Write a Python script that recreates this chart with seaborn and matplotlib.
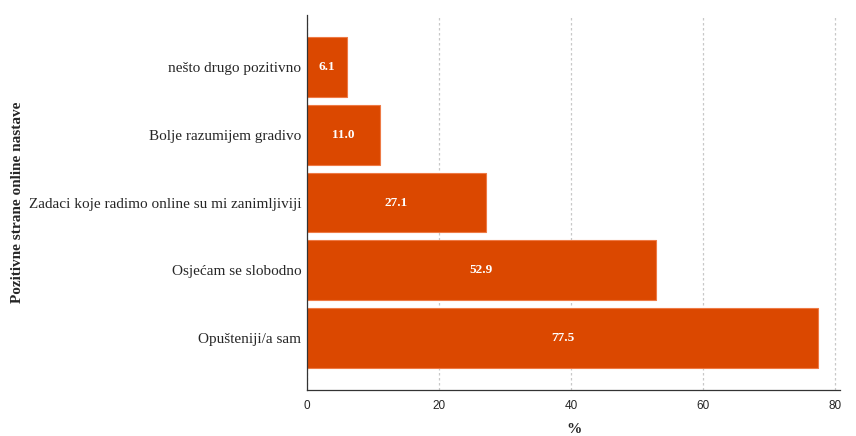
import matplotlib
matplotlib.use("Agg")
import matplotlib.pyplot as plt
import seaborn as sns
import pandas as pd

categories = ["nešto drugo pozitivno", "Bolje razumijem gradivo",
              "Zadaci koje radimo online su mi zanimljiviji",
              "Osjećam se slobodno", "Opušteniji/a sam"]
values = [6.1, 11.0, 27.1, 52.9, 77.5]
xticks = [0, 20, 40, 60, 80]

df = pd.DataFrame({"cat": categories, "val": values})

sns.set_style("white")
fig = plt.figure(figsize=(8.56, 4.36), dpi=100)
ax = fig.add_axes([307/856, 1-390/436, (840-307)/856, (390-15)/436])

sns.barplot(data=df, x="val", y="cat", orient="h", color="#DB4800",
            saturation=1, width=0.88, edgecolor="#EE7A45", linewidth=0.8, ax=ax)

for i, v in enumerate(values):
    ax.text(v/2, i, f"{v:.1f}", ha="center", va="center", color="white",
            fontweight="bold", fontsize=9.5, family="Liberation Serif")

ax.set_xlim(0, 80.8)
ax.set_ylim(4.765, -0.765)
ax.set_xticks(xticks)
ax.set_xticklabels([str(t) for t in xticks], family="Liberation Sans", fontsize=8.5)
ax.tick_params(axis="x", length=0, pad=7)
ax.tick_params(axis="y", length=0, pad=4)
for lab in ax.get_yticklabels():
    lab.set_family("Liberation Serif")
    lab.set_fontsize(11)
ax.xaxis.grid(True, linestyle=(0, (2, 2)), color="#C8C8C8", linewidth=0.9)
ax.set_axisbelow(True)
for s in ["top", "right"]:
    ax.spines[s].set_visible(False)
for s in ["left", "bottom"]:
    ax.spines[s].set_color("#333333")
    ax.spines[s].set_linewidth(0.9)
ax.set_xlabel("%", family="Liberation Serif", fontweight="bold", fontsize=11, labelpad=8)
ax.set_ylabel("")
fig.text(18/856, 1-202/436, "Pozitivne strane online nastave", rotation=90,
         ha="center", va="center", family="Liberation Serif", fontweight="bold", fontsize=11)

fig.savefig("out.png", dpi=100)
